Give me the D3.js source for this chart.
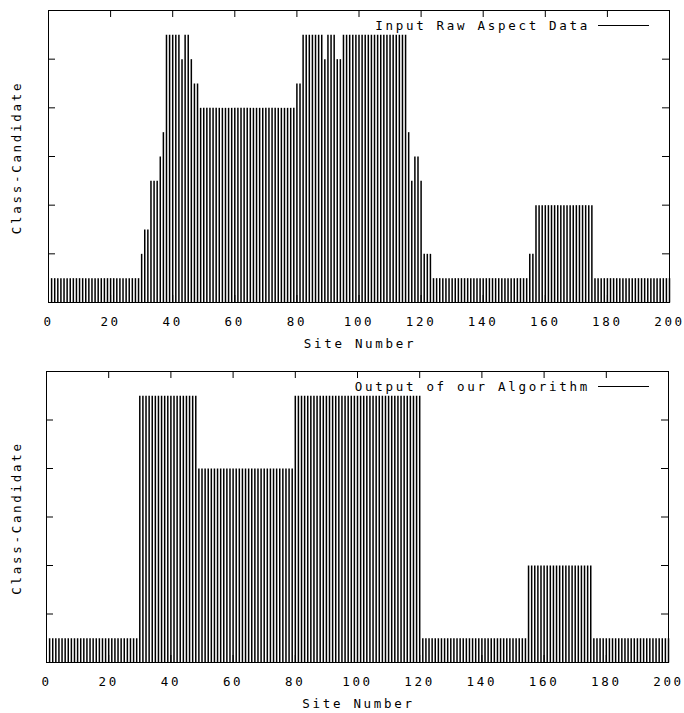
<!DOCTYPE html>
<html>
<head>
<meta charset="utf-8">
<script src="https://cdn.jsdelivr.net/npm/d3@7"></script>
<style>
  body { margin: 0; background: #fff; }
  text { font-family: 'DejaVu Sans Mono', monospace; font-size: 12.5px; letter-spacing: 2.7px; fill: #000; }
</style>
</head>
<body>
<svg id="chart" width="684" height="713"></svg>
<script>
// site numbers 1..200, class candidate for each site
var sites = d3.range(1, 201);

var rawClass = [
  1, 1, 1, 1, 1, 1, 1, 1, 1, 1, 1, 1, 1, 1, 1, 1, 1, 1, 1, 1,
  1, 1, 1, 1, 1, 1, 1, 1, 1, 2, 3, 3, 5, 5, 5, 6, 7, 11, 11, 11,
  11, 11, 10, 11, 11, 10, 9, 9, 8, 8, 8, 8, 8, 8, 8, 8, 8, 8, 8, 8,
  8, 8, 8, 8, 8, 8, 8, 8, 8, 8, 8, 8, 8, 8, 8, 8, 8, 8, 8, 9,
  9, 11, 11, 11, 11, 11, 11, 11, 10, 11, 11, 11, 10, 10, 11, 11, 11, 11, 11, 11,
  11, 11, 11, 11, 11, 11, 11, 11, 11, 11, 11, 11, 11, 11, 11, 7, 5, 6, 6, 5,
  2, 2, 2, 1, 1, 1, 1, 1, 1, 1, 1, 1, 1, 1, 1, 1, 1, 1, 1, 1,
  1, 1, 1, 1, 1, 1, 1, 1, 1, 1, 1, 1, 1, 1, 2, 2, 4, 4, 4, 4,
  4, 4, 4, 4, 4, 4, 4, 4, 4, 4, 4, 4, 4, 4, 4, 1, 1, 1, 1, 1,
  1, 1, 1, 1, 1, 1, 1, 1, 1, 1, 1, 1, 1, 1, 1, 1, 1, 1, 1, 1
];

var outClass = [
  1, 1, 1, 1, 1, 1, 1, 1, 1, 1, 1, 1, 1, 1, 1, 1, 1, 1, 1, 1,
  1, 1, 1, 1, 1, 1, 1, 1, 1, 11, 11, 11, 11, 11, 11, 11, 11, 11, 11, 11,
  11, 11, 11, 11, 11, 11, 11, 11, 8, 8, 8, 8, 8, 8, 8, 8, 8, 8, 8, 8,
  8, 8, 8, 8, 8, 8, 8, 8, 8, 8, 8, 8, 8, 8, 8, 8, 8, 8, 8, 11,
  11, 11, 11, 11, 11, 11, 11, 11, 11, 11, 11, 11, 11, 11, 11, 11, 11, 11, 11, 11,
  11, 11, 11, 11, 11, 11, 11, 11, 11, 11, 11, 11, 11, 11, 11, 11, 11, 11, 11, 11,
  1, 1, 1, 1, 1, 1, 1, 1, 1, 1, 1, 1, 1, 1, 1, 1, 1, 1, 1, 1,
  1, 1, 1, 1, 1, 1, 1, 1, 1, 1, 1, 1, 1, 1, 4, 4, 4, 4, 4, 4,
  4, 4, 4, 4, 4, 4, 4, 4, 4, 4, 4, 4, 4, 4, 4, 1, 1, 1, 1, 1,
  1, 1, 1, 1, 1, 1, 1, 1, 1, 1, 1, 1, 1, 1, 1, 1, 1, 1, 1, 1
];

var xTicks = [0, 20, 40, 60, 80, 100, 120, 140, 160, 180, 200];
var yTicks = [2, 4, 6, 8, 10];
var xTitle = 'Site Number';
var yTitle = 'Class-Candidate';
var keyLabels = ['Input Raw Aspect Data', 'Output of our Algorithm'];

var svg = d3.select('#chart');

function drawPanel(values, key, box) {
  var x = d3.scaleLinear().domain([0, 200]).range([box.left, box.right]);
  var y = d3.scaleLinear().domain([0, 12]).range([box.bottom, box.top]);
  var g = svg.append('g');

  // impulses
  g.append('g')
    .selectAll('line')
    .data(sites)
    .join('line')
    .attr('x1', function(d) { return x(d) + 0.5; })
    .attr('x2', function(d) { return x(d) + 0.5; })
    .attr('y1', y(0) + 0.5)
    .attr('y2', function(d, i) { return y(values[i]) + 0.5; })
    .attr('stroke', '#000')
    .attr('stroke-width', 1.5);

  function clean(a) {
    a.select('.domain').remove();
    a.selectAll('line').attr('stroke', '#000');
    a.attr('font-family', null).attr('font-size', null);
  }

  // x ticks: top mirrored, bottom with labels
  g.append('g')
    .attr('transform', 'translate(0,' + box.top + ')')
    .call(d3.axisBottom(x).tickValues(xTicks).tickSize(7).tickFormat(''))
    .call(clean);
  g.append('g')
    .attr('transform', 'translate(0,' + box.bottom + ')')
    .call(d3.axisBottom(x).tickValues(xTicks).tickSizeInner(-7).tickSizeOuter(0).tickPadding(15))
    .call(clean);

  // y ticks on both sides, no labels
  g.append('g')
    .attr('transform', 'translate(' + box.left + ',0)')
    .call(d3.axisRight(y).tickValues(yTicks).tickSize(7).tickFormat(''))
    .call(clean);
  g.append('g')
    .attr('transform', 'translate(' + box.right + ',0)')
    .call(d3.axisLeft(y).tickValues(yTicks).tickSize(7).tickFormat(''))
    .call(clean);

  // border
  g.append('rect')
    .attr('x', box.left + 0.5)
    .attr('y', box.top + 0.5)
    .attr('width', box.right - box.left)
    .attr('height', box.bottom - box.top)
    .attr('fill', 'none')
    .attr('stroke', '#000')
    .attr('stroke-width', 1);

  // key
  g.append('text')
    .attr('x', 590)
    .attr('y', box.top + 19.5)
    .attr('text-anchor', 'end')
    .text(key);
  g.append('line')
    .attr('x1', 598)
    .attr('x2', 649)
    .attr('y1', box.top + 15.5)
    .attr('y2', box.top + 15.5)
    .attr('stroke', '#000');

  // titles
  g.append('text')
    .attr('x', (box.left + box.right) / 2 + 1.5)
    .attr('y', box.bottom + 46)
    .attr('text-anchor', 'middle')
    .text(xTitle);
  g.append('text')
    .attr('transform', 'translate(21,' + ((box.top + box.bottom) / 2 + 1.5) + ') rotate(-90)')
    .attr('text-anchor', 'middle')
    .text(yTitle);
}

drawPanel(rawClass, keyLabels[0], { left: 48, right: 669, top: 10, bottom: 302 });
drawPanel(outClass, keyLabels[1], { left: 46, right: 668, top: 371, bottom: 662 });
</script>
</body>
</html>
